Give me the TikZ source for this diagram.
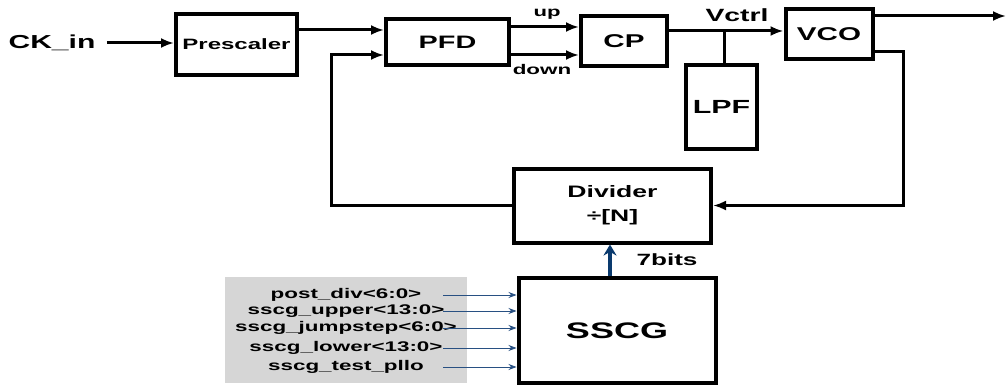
\documentclass[tikz,border=0pt]{standalone}
\usepackage{fontspec}
\setmainfont{Liberation Sans}[FakeStretch=1.6]
\usetikzlibrary{arrows.meta}

\definecolor{sigblue}{RGB}{40,80,130}
\definecolor{busblue}{RGB}{10,58,110}
\definecolor{panelgray}{RGB}{214,214,214}

\newcommand{\fsz}[1]{\fontsize{#1}{#1}\selectfont}

\tikzset{
  blk/.style={draw, line width=4pt, inner sep=0pt, font=\bfseries},
  wire/.style={line width=3pt, -{Latex[length=13pt,width=10pt]}},
  sig/.style={sigblue, line width=0.8pt, -{Stealth[length=8pt,width=6pt]}},
  bus/.style={busblue, line width=3.5pt, -{Stealth[length=11pt,width=13pt]}},
  lbl/.style={font=\bfseries\fsz{14}},
}

\begin{document}
\begin{tikzpicture}[x=1pt,y=-1pt]
  \useasboundingbox (0,0) rectangle (1006,385);

  % Gray panel with the SSCG settings
  \fill[panelgray] (225,277) rectangle (467,383);

  % Blocks
  \node[blk, minimum width=121, minimum height=61, font=\bfseries\fsz{15}] (pre) at (236.5,44.5) {Prescaler};
  \node[blk, minimum width=123, minimum height=46, font=\bfseries\fsz{18}] (pfd) at (447.5,42) {PFD};
  \node[blk, minimum width=86, minimum height=50, font=\bfseries\fsz{18.5}] (cp) at (624,41) {CP};
  \node[blk, minimum width=71, minimum height=84, font=\bfseries\fsz{19}] (lpf) at (721.5,107) {LPF};
  \node[blk, minimum width=87, minimum height=50, font=\bfseries\fsz{18.5}] (vco) at (829,34) {VCO};
  \node[blk, minimum width=197, minimum height=74, align=center, font=\bfseries\fontsize{16.6}{24}\selectfont] (div) at (612.5,205.5) {Divider\\÷[N]};
  \node[blk, minimum width=197, minimum height=105, font=\bfseries\fsz{22.5}] (sscg) at (617,330.5) {SSCG};

  % Input clock
  \node[font=\bfseries\fsz{18.8}] (ck) at (52,43) {CK\_in};
  \draw[wire] ([xshift=8]ck.east) -- (ck -| pre.west);

  % Prescaler to PFD, feedback into PFD
  \coordinate (pin1) at ([yshift=12]pfd.west);
  \coordinate (pin2) at ([yshift=-13]pfd.west);
  \draw[wire] (pre.east |- pin1) -- (pin1);
  \draw[wire] (div.west) -| ([xshift=-53]pin2) -- (pin2);

  % up / down to CP
  \coordinate (cin1) at ([yshift=14]cp.west);
  \coordinate (cin2) at ([yshift=-14]cp.west);
  \draw[wire] (pfd.east |- cin1) -- (cin1);
  \draw[wire] (pfd.east |- cin2) -- (cin2);
  \node[font=\bfseries\fsz{13.8}] (up) at (547,14) {up};
  \node[font=\bfseries\fsz{14}] (down) at (542,69) {down};

  % Vctrl with loop filter
  \coordinate (vin) at ([yshift=10]cp.east -| vco.west);
  \draw[wire] (cp.east |- vin) -- (vin);
  \draw[line width=3pt] ([xshift=3]lpf.north) -- ([xshift=3]lpf.north |- vin);
  \node[font=\bfseries\fsz{17.7}] (vctrl) at (737,15) {Vctrl};

  % VCO output and return to divider
  \coordinate (out) at (1006,16);
  \coordinate (fbR) at (903,205.5);
  \draw[wire] (vco.east |- out) -- (out);
  \draw[wire] ([yshift=-18]vco.east) -| (fbR) -- (div.east);

  % SSCG to divider
  \coordinate (busx) at (610,0);
  \draw[bus] (sscg.north -| busx) -- (div.south -| busx);
  \node[font=\bfseries\fsz{16.3}] (bits) at (667,260) {7bits};

  % SSCG settings
  \foreach \txt/\yy [count=\i] in {post\_div<6:0>/295, sscg\_upper<13:0>/311, sscg\_jumpstep<6:0>/328, sscg\_lower<13:0>/348, sscg\_test\_pllo/367} {
    \node[lbl] (in\i) at (346,\yy) {\txt};
    \draw[sig] (in\i -| 443,0) -- (in\i -| sscg.west);
  }
\end{tikzpicture}
\end{document}
